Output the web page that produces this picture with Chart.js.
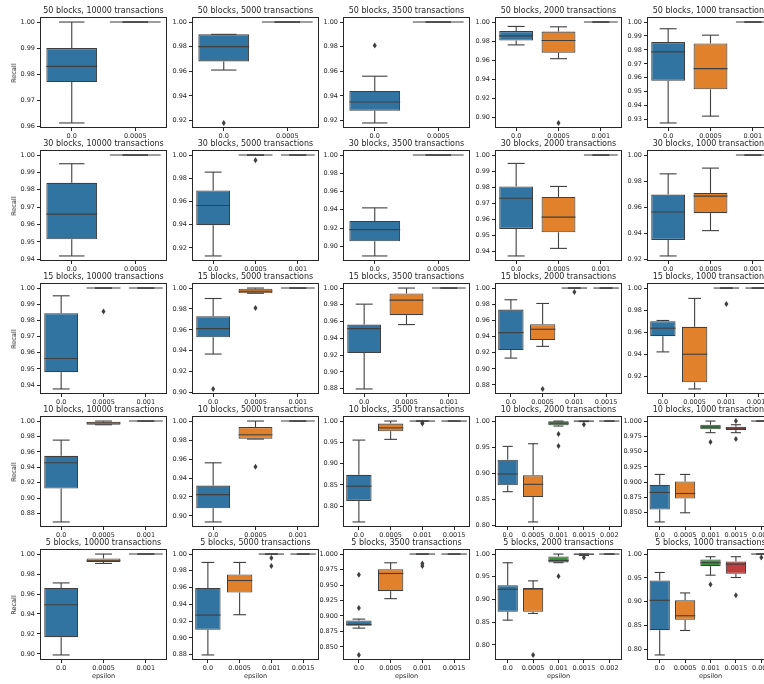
<!DOCTYPE html>
<html>
<head>
<meta charset="utf-8">
<script src="https://cdn.jsdelivr.net/npm/chart.js@4.4.0/dist/chart.umd.min.js"></script>
<style>
  body { margin: 0; width: 764px; height: 684px; overflow: hidden; background: #fff; position: relative;
         font-family: "DejaVu Sans", sans-serif; color: #262626; }
  canvas { position: absolute; }
  .lbl { position: absolute; white-space: nowrap; line-height: 10px; }
</style>
</head>
<body>
<script>
// grid of subplots: rows = blocks, columns = transactions
const blocks = [50, 30, 15, 10, 5];
const transactions = [10000, 5000, 3500, 2000, 1000];
const epsilons = ["0.0", "0.0005", "0.001", "0.0015", "0.002"];

// each box: [lower whisker, q1, median, q3, upper whisker, [fliers]]
const b50t10000 = [[0.9613, 0.977, 0.983, 0.990, 1.0, []], [1, 1, 1, 1, 1, []]];
const b50t5000 = [[0.961, 0.968, 0.980, 0.990, 0.990, [0.918]], [1, 1, 1, 1, 1, []]];
const b50t3500 = [[0.918, 0.928, 0.935, 0.944, 0.956, [0.981]], [1, 1, 1, 1, 1, []]];
const b50t2000 = [[0.976, 0.9806, 0.9855, 0.9905, 0.9954, []], [0.9615, 0.9678, 0.9806, 0.990, 0.995, [0.894]], [1, 1, 1, 1, 1, []]];
const b50t1000 = [[0.9276, 0.9579, 0.9786, 0.9856, 0.9952, []], [0.9325, 0.9517, 0.9666, 0.9846, 0.9906, []], [1, 1, 1, 1, 1, []]];

const b30t10000 = [[0.9419, 0.9515, 0.966, 0.984, 0.995, []], [1, 1, 1, 1, 1, []]];
const b30t5000 = [[0.9131, 0.9396, 0.9565, 0.9695, 0.9853, []], [1, 1, 1, 1, 1, [0.9955]], [1, 1, 1, 1, 1, []]];
const b30t3500 = [[0.8894, 0.9055, 0.9183, 0.9278, 0.9421, []], [1, 1, 1, 1, 1, []]];
const b30t2000 = [[0.9373, 0.9541, 0.9732, 0.9805, 0.9948, []], [0.942, 0.952, 0.9614, 0.974, 0.9805, []], [1, 1, 1, 1, 1, []]];
const b30t1000 = [[0.9227, 0.935, 0.9564, 0.9697, 0.9856, []], [0.9421, 0.9555, 0.9685, 0.971, 0.990, []], [1, 1, 1, 1, 1, []]];

const b15t10000 = [[0.9376, 0.948, 0.9564, 0.9844, 0.9952, []], [1, 1, 1, 1, 1, [0.9855]], [1, 1, 1, 1, 1, []]];
const b15t5000 = [[0.9369, 0.9529, 0.9612, 0.973, 0.990, [0.9035]], [0.995, 0.995, 0.997, 0.9994, 1.0, [0.9808]], [1, 1, 1, 1, 1, []]];
const b15t3500 = [[0.8796, 0.9224, 0.9516, 0.9564, 0.9808, []], [0.9564, 0.9676, 0.9856, 0.9936, 1.0, []], [1, 1, 1, 1, 1, []]];
const b15t2000 = [[0.9133, 0.9232, 0.9448, 0.9734, 0.9855, []], [0.9278, 0.9357, 0.949, 0.9552, 0.9809, [0.8751]], [1, 1, 1, 1, 1, [0.995]], [1, 1, 1, 1, 1, []]];
const b15t1000 = [[0.9421, 0.9564, 0.9636, 0.970, 0.9706, []], [0.9085, 0.9145, 0.940, 0.9648, 0.9906, []], [1, 1, 1, 1, 1, [0.9855]], [1, 1, 1, 1, 1, []]];

const b10t10000 = [[0.8693, 0.9126, 0.9459, 0.955, 0.9753, []], [0.9952, 0.9952, 0.9974, 0.9991, 1.0, []], [1, 1, 1, 1, 1, []]];
const b10t5000 = [[0.8937, 0.9081, 0.9225, 0.932, 0.956, []], [0.981, 0.9813, 0.9856, 0.9937, 1.0, [0.9518]], [1, 1, 1, 1, 1, []]];
const b10t3500 = [[0.7631, 0.8125, 0.8471, 0.8737, 0.9553, []], [0.957, 0.976, 0.984, 0.994, 1.0, []], [1, 1, 1, 1, 1, [0.996, 0.994]], [1, 1, 1, 1, 1, []]];
const b10t2000 = [[0.8645, 0.8767, 0.8984, 0.9259, 0.9514, []], [0.8064, 0.8543, 0.8786, 0.8958, 0.9565, []], [0.9904, 0.9917, 0.9962, 0.9994, 1.0, [0.975, 0.952]], [0.999, 0.999, 1, 1, 1, [0.9936]], [1, 1, 1, 1, 1, []]];
const b10t1000 = [[0.835, 0.8553, 0.8832, 0.8957, 0.9127, []], [0.85, 0.8733, 0.8815, 0.9012, 0.9127, []], [0.981, 0.9864, 0.9902, 0.994, 1.0, [0.9656]], [0.981, 0.9853, 0.9885, 0.9907, 0.994, [1.0, 0.9705]], [1, 1, 1, 1, 1, []]];

const b5t10000 = [[0.899, 0.9168, 0.9493, 0.9661, 0.9711, []], [0.9906, 0.992, 0.9933, 0.9956, 1.0, []], [1, 1, 1, 1, 1, []]];
const b5t5000 = [[0.8796, 0.9096, 0.9272, 0.9596, 0.990, []], [0.9276, 0.954, 0.9684, 0.9756, 0.990, []], [1, 1, 1, 1, 1, [0.9952, 0.9856]], [1, 1, 1, 1, 1, []]];
const b5t3500 = [[0.8804, 0.8842, 0.8864, 0.8929, 0.895, [0.9665, 0.9129, 0.8371]], [0.928, 0.940, 0.9686, 0.9756, 0.9859, []], [1, 1, 1, 1, 1, [0.9848, 0.9805]], [1, 1, 1, 1, 1, []]];
const b5t2000 = [[0.8546, 0.873, 0.9225, 0.9314, 0.9808, []], [0.8693, 0.873, 0.923, 0.9255, 0.941, [0.778]], [0.981, 0.9815, 0.986, 0.9948, 1.0, [0.9513]], [0.997, 0.9985, 1, 1, 1, [0.9926]], [1, 1, 1, 1, 1, []]];
const b5t1000 = [[0.788, 0.8401, 0.9028, 0.9444, 0.9613, []], [0.8394, 0.862, 0.8704, 0.9028, 0.9183, []], [0.9556, 0.9746, 0.9817, 0.9887, 0.9944, [0.9359]], [0.9507, 0.9584, 0.9789, 0.9845, 0.9944, [0.9134]], [1, 1, 1, 1, 1, [0.993]]];

const stats = [
  [b50t10000, b50t5000, b50t3500, b50t2000, b50t1000],
  [b30t10000, b30t5000, b30t3500, b30t2000, b30t1000],
  [b15t10000, b15t5000, b15t3500, b15t2000, b15t1000],
  [b10t10000, b10t5000, b10t3500, b10t2000, b10t1000],
  [b5t10000, b5t5000, b5t3500, b5t2000, b5t1000],
];

// y tick spacing per subplot
const tickSteps = [
  [0.01, 0.02, 0.02, 0.02, 0.01],
  [0.01, 0.02, 0.02, 0.01, 0.02],
  [0.01, 0.02, 0.02, 0.02, 0.02],
  [0.02, 0.02, 0.05, 0.05, 0.025],
  [0.02, 0.02, 0.025, 0.05, 0.05],
];

const palette = ["#3274a1", "#e1812c", "#3a923a", "#c03d3e", "#9372b2"];
const lineGray = "#3f3f3f";
const ink = "#262626";
const font = "DejaVu Sans";

// layout
const colLeft = [40, 192, 343, 495, 647];
const rowTop = [17, 150, 283, 416, 549];
const plotW = 127, plotH = 111;
const yAxisW = 32, xAxisH = 14, padTop = 6, padRight = 4;

const boxPlugin = {
  id: "boxes",
  afterDatasetsDraw(chart, args, opts) {
    const { ctx, chartArea: a, scales: { y } } = chart;
    const list = opts.stats;
    const slot = (a.right - a.left) / list.length;
    ctx.save();
    ctx.strokeStyle = lineGray;
    ctx.fillStyle = lineGray;
    ctx.lineWidth = 1.1;
    const seg = (x1, y1, x2, y2) => {
      ctx.beginPath(); ctx.moveTo(x1, y1); ctx.lineTo(x2, y2); ctx.stroke();
    };
    list.forEach((s, i) => {
      const [lo, q1, med, q3, hi, fliers] = s;
      const cx = chart.scales.x.getPixelForValue(i);
      const half = slot * 0.4;
      seg(cx, y.getPixelForValue(q3), cx, y.getPixelForValue(hi));
      seg(cx, y.getPixelForValue(lo), cx, y.getPixelForValue(q1));
      seg(cx - half / 2, y.getPixelForValue(hi), cx + half / 2, y.getPixelForValue(hi));
      seg(cx - half / 2, y.getPixelForValue(lo), cx + half / 2, y.getPixelForValue(lo));
      seg(cx - half, y.getPixelForValue(med), cx + half, y.getPixelForValue(med));
      fliers.forEach((f) => {
        const py = y.getPixelForValue(f);
        ctx.beginPath();
        ctx.moveTo(cx, py - 3); ctx.lineTo(cx + 2, py); ctx.lineTo(cx, py + 3); ctx.lineTo(cx - 2, py);
        ctx.closePath(); ctx.fill();
      });
    });
    // frame
    ctx.strokeStyle = ink;
    ctx.lineWidth = 1;
    ctx.strokeRect(Math.round(a.left) + 0.5, Math.round(a.top) + 0.5,
      Math.round(a.right - a.left) - 1, Math.round(a.bottom - a.top) - 1);
    ctx.restore();
  },
};

function addLabel(text, left, top, size, extra) {
  const d = document.createElement("div");
  d.className = "lbl";
  d.textContent = text;
  d.style.left = left + "px";
  d.style.top = top + "px";
  d.style.fontSize = size + "px";
  d.style.transform = extra || "translateX(-50%)";
  document.body.appendChild(d);
}

blocks.forEach((nb, r) => {
  transactions.forEach((nt, c) => {
    const list = stats[r][c];
    const labels = epsilons.slice(0, list.length);
    let lo = Infinity, hi = -Infinity;
    list.forEach((s) => {
      [s[0], s[4], ...s[5]].forEach((v) => { lo = Math.min(lo, v); hi = Math.max(hi, v); });
    });
    const margin = (hi - lo) * 0.05;
    const step = tickSteps[r][c];
    const dec = step === 0.025 ? 3 : 2;

    const cv = document.createElement("canvas");
    const w = yAxisW + plotW + padRight, h = padTop + plotH + xAxisH;
    cv.width = w; cv.height = h;
    cv.style.left = (colLeft[c] - yAxisW) + "px";
    cv.style.top = (rowTop[r] - padTop) + "px";
    document.body.appendChild(cv);

    new Chart(cv.getContext("2d"), {
      type: "bar",
      data: {
        labels: labels,
        datasets: [{
          data: list.map((s) => [s[1], s[3]]),
          backgroundColor: list.map((s, i) => palette[i]),
          borderColor: lineGray,
          borderWidth: 1.1,
          borderSkipped: false,
          barPercentage: 0.8,
          categoryPercentage: 1.0,
        }],
      },
      options: {
        responsive: false,
        animation: false,
        devicePixelRatio: 1,
        layout: { padding: { top: padTop, right: padRight, left: 0, bottom: 0 } },
        plugins: {
          legend: { display: false },
          tooltip: { enabled: false },
          boxes: { stats: list },
        },
        scales: {
          x: {
            offset: true,
            grid: { display: true, drawOnChartArea: false, offset: false, tickLength: 3, color: ink },
            border: { display: false },
            ticks: { color: ink, font: { family: font, size: 6.5 }, padding: 1, autoSkip: false, maxRotation: 0 },
            afterFit: (s) => { s.height = xAxisH; },
          },
          y: {
            min: lo - margin,
            max: hi + margin,
            grid: { display: true, drawOnChartArea: false, tickLength: 3, color: ink },
            border: { display: false },
            ticks: {
              stepSize: step,
              includeBounds: false,
              autoSkip: false,
              color: ink,
              font: { family: font, size: 6.5 },
              padding: 2,
              callback: (v) => v.toFixed(dec),
            },
            afterFit: (s) => { s.width = yAxisW; },
          },
        },
      },
      plugins: [boxPlugin],
    });

    addLabel(nb + " blocks, " + nt + " transactions", colLeft[c] + plotW / 2, rowTop[r] - 11, 8);
    if (c === 0) {
      addLabel("Recall", 14, rowTop[r] + plotH / 2, 6.5, "translate(-50%, -50%) rotate(-90deg)");
    }
    if (r === blocks.length - 1) {
      addLabel("epsilon", colLeft[c] + plotW / 2, 671, 6.5);
    }
  });
});
</script>
</body>
</html>
